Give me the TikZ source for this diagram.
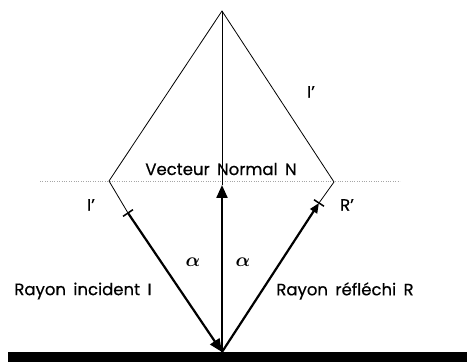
\documentclass[tikz,border=0pt]{standalone}
\usepackage{bm}
\usepackage{fontspec}
\setmainfont{Poppins}
\newfontfamily\lblfam{Poppins}[FakeBold=0.5]
\usetikzlibrary{arrows.meta,calc}
\newcommand\myLblFont{\lblfam\fontsize{16.5}{18}\selectfont\spaceskip=0.45em plus 0.1em\relax}
\begin{document}
\begin{tikzpicture}[x=1pt,y=1pt,
  thinline/.style={line width=0.8pt},
  ray/.style={line width=2.2pt,-{Triangle[length=13pt,width=11pt]}},
  smallray/.style={line width=2.2pt,-{Triangle[length=10pt,width=8pt]}},
  lbl/.style={font=\myLblFont, inner sep=0pt},
  alph/.style={font=\fontsize{12}{14}\selectfont, inner sep=0pt, scale=1.6},
  tickmark/.style={line width=1.5pt}]
\useasboundingbox (0,0) rectangle (467,362);
\coordinate (A) at (222,351);
\coordinate (O) at (222,10);
\coordinate (L) at (109,181);
\coordinate (R) at (334,180);
\coordinate (Ti) at (128,149);
\coordinate (Tr) at (319,159);
\coordinate (Nt) at (222,177);
\coordinate (D1) at (40,181);
\coordinate (D2) at (400,181);
\coordinate (B1) at (8,0);
\coordinate (B2) at (467,10);
\fill (B1) rectangle (B2);
\draw[gray!70, dotted] (D1) -- (D2);
\draw[thinline] (Ti) -- (L) -- (A) -- (R) -- (Tr);
\draw[thinline] (A) -- (Nt);
\draw[ray] (Ti) -- (O);
\draw[smallray] (O) -- (Tr);
\draw[ray] (O) -- (Nt);
\draw[tickmark] ($(Ti)!6pt!90:(O)$) -- ($(Ti)!6pt!-90:(O)$);
\draw[tickmark] ($(Tr)!6pt!90:(O)$) -- ($(Tr)!6pt!-90:(O)$);
\node[lbl] (vn) at (221,193) {Vecteur Normal N};
\node[lbl] (ip) at (311,270) {I’};
\node[lbl] (il) at (91,157) {I’};
\node[lbl] (rp) at (347,157) {R’};
\node[alph] (a1) at (193,100) {$\bm{\alpha}$};
\node[alph] (a2) at (243,100) {$\bm{\alpha}$};
\node[lbl] (ri) at (83,71) {Rayon incident I};
\node[lbl] (rr) at (345,71) {Rayon réfléchi R};
\end{tikzpicture}
\end{document}
